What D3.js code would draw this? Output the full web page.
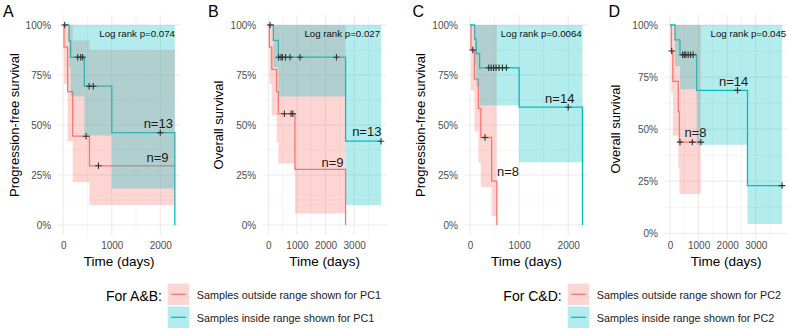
<!DOCTYPE html>
<html>
<head>
<meta charset="utf-8">
<script src="https://cdn.jsdelivr.net/npm/d3@7"></script>
<style>
  body { margin: 0; background: #fff; }
  svg { display: block; font-family: "Liberation Sans", Arial, sans-serif; }
</style>
</head>
<body>
<svg id="chart" width="789" height="329"></svg>
<script>
// Panel A - progression-free survival, PC1 groups
const aOutTime = [0, 15, 90, 195, 540, 2300];
const aOutSurv = [1, 0.889, 0.667, 0.444, 0.296, 0.296];
const aOutLow  = [1, 0.705, 0.42, 0.214, 0.10, 0.10];
const aOutUp   = [1, 1, 1, 0.923, 0.875, 0.875];
const aOutCens = [470, 725];
const aInTime = [0, 118, 152, 435, 1000, 2300];
const aInSurv = [1, 0.92, 0.839, 0.694, 0.462, 0];
const aInLow  = [1, 0.79, 0.643, 0.448, 0.183, 0.183];
const aInUp   = [1, 1, 1, 1, 1, 1];
const aInCens = [30, 298, 360, 400, 532, 620, 2000];

// Panel B - overall survival, PC1 groups
const bOutTime = [0, 35, 120, 290, 350, 930, 2700];
const bOutSurv = [1, 0.889, 0.778, 0.667, 0.556, 0.278, 0];
const bOutLow  = [1, 0.706, 0.548, 0.415, 0.307, 0.058, 0.058];
const bOutUp   = [1, 1, 1, 1, 1, 1, 1];
const bOutCens = [560, 795, 855];
const bInTime = [0, 175, 350, 2700, 3940];
const bInSurv = [1, 0.923, 0.839, 0.419, 0.419];
const bInLow  = [1, 0.79, 0.643, 0.10, 0.10];
const bInUp   = [1, 1, 1, 1, 1];
const bInCens = [60, 360, 444, 490, 600, 760, 1108, 2380, 3940];

// Panel C - progression-free survival, PC2 groups
const cOutTime = [0, 20, 90, 170, 220, 440, 545];
const cOutSurv = [1, 0.875, 0.729, 0.583, 0.4375, 0.219, 0];
const cOutLow  = [1, 0.673, 0.468, 0.313, 0.189, 0.045, 0.045];
const cOutUp   = [1, 1, 1, 1, 1, 1, 1];
const cOutCens = [55, 305];
const cInTime = [0, 92, 125, 195, 1000, 2290];
const cInSurv = [1, 0.929, 0.857, 0.786, 0.589, 0];
const cInLow  = [1, 0.803, 0.692, 0.598, 0.314, 0.314];
const cInUp   = [1, 1, 1, 1, 1, 1];
const cInCens = [380, 430, 480, 530, 590, 660, 740, 2000];

// Panel D - overall survival, PC2 groups
const dOutTime = [0, 45, 100, 290, 330, 1080];
const dOutSurv = [1, 0.875, 0.729, 0.583, 0.4375, 0.4375];
const dOutLow  = [1, 0.673, 0.468, 0.313, 0.189, 0.189];
const dOutUp   = [1, 1, 1, 1, 1, 1];
const dOutCens = [60, 350, 780, 1080];
const dInTime = [0, 175, 350, 930, 2710, 3920];
const dInSurv = [1, 0.929, 0.857, 0.686, 0.229, 0.229];
const dInLow  = [1, 0.803, 0.692, 0.425, 0.045, 0.045];
const dInUp   = [1, 1, 1, 1, 1, 1];
const dInCens = [440, 500, 555, 635, 720, 810, 2360, 3920];

// labels
const yTicks = [0, 0.25, 0.5, 0.75, 1];
const yMinor = [0.125, 0.375, 0.625, 0.875];
const xTicksShort = [0, 1000, 2000];
const xTicksLong = [0, 1000, 2000, 3000];
const pvals = ["Log rank p=0.074", "Log rank p=0.027", "Log rank p=0.0064", "Log rank p=0.045"];
const nOut = [9, 9, 8, 8];
const nIn = [13, 13, 14, 14];
const legendAB = ["Samples outside range shown for PC1", "Samples inside range shown for PC1"];
const legendCD = ["Samples outside range shown for PC2", "Samples inside range shown for PC2"];
const groupColors = ["#F8766D", "#00BFC4"];

function grp(time, surv, low, up, cens) {
    return { time, surv, low, up, cens };
}

var panels = [
    { letter: "A", ytitle: "Progression-free survival", xmax: 2300, xTicks: xTicksShort,
      groups: [grp(aOutTime, aOutSurv, aOutLow, aOutUp, aOutCens), grp(aInTime, aInSurv, aInLow, aInUp, aInCens)],
      left: 57.7, right: 180.4, y0: 225, y100: 25, gridTop: 15, gridBottom: 235,
      letterX: 3, titleX: 14, pAt: [2303, 0.955], nOutAt: [1942, 0.34], nInAt: [1959, 0.51] },
    { letter: "B", ytitle: "Overall survival", xmax: 3940, xTicks: xTicksLong,
      groups: [grp(bOutTime, bOutSurv, bOutLow, bOutUp, bOutCens), grp(bInTime, bInSurv, bInLow, bInUp, bInCens)],
      left: 262.7, right: 386.7, y0: 225, y100: 25, gridTop: 15, gridBottom: 235,
      letterX: 208, titleX: 218.5, pAt: [3906, 0.955], nOutAt: [2245, 0.315], nInAt: [3441, 0.47] },
    { letter: "C", ytitle: "Progression-free survival", xmax: 2300, xTicks: xTicksShort,
      groups: [grp(cOutTime, cOutSurv, cOutLow, cOutUp, cOutCens), grp(cInTime, cInSurv, cInLow, cInUp, cInCens)],
      left: 464.4, right: 588.6, y0: 225, y100: 25, gridTop: 15, gridBottom: 235,
      letterX: 412.5, titleX: 420, pAt: [2275, 0.958], nOutAt: [774, 0.27], nInAt: [1827, 0.635] },
    { letter: "D", ytitle: "Overall survival", xmax: 3920, xTicks: xTicksLong,
      groups: [grp(dOutTime, dOutSurv, dOutLow, dOutUp, dOutCens), grp(dInTime, dInSurv, dInLow, dInUp, dInCens)],
      left: 664.4, right: 787.7, y0: 233.3, y100: 25, gridTop: 14.6, gridBottom: 239,
      letterX: 608.5, titleX: 615.5, pAt: [4066, 0.957], nOutAt: [889, 0.484], nInAt: [2223, 0.731] }
];

var svg = d3.select("#chart");

panels.forEach(function(p, pi) {
    var x = d3.scaleLinear().domain([-0.05 * p.xmax, 1.05 * p.xmax]).range([p.left, p.right]);
    var y = d3.scaleLinear().domain([0, 1]).range([p.y0, p.y100]);
    var g = svg.append("g");

    // grid - minor then major
    var minorX = d3.range(500, 1.05 * p.xmax, 1000);
    var grid = g.append("g");
    grid.selectAll(".mx").data(minorX).join("line").attr("class", "mx")
        .attr("x1", d => x(d)).attr("x2", d => x(d))
        .attr("y1", p.gridTop).attr("y2", p.gridBottom);
    grid.selectAll(".my").data(yMinor).join("line").attr("class", "my")
        .attr("x1", p.left).attr("x2", p.right)
        .attr("y1", d => y(d)).attr("y2", d => y(d));
    grid.selectAll(".mx, .my").attr("stroke", "#F1F1F1").attr("stroke-width", 0.7);
    grid.selectAll(".Mx").data(p.xTicks).join("line").attr("class", "Mx")
        .attr("x1", d => x(d)).attr("x2", d => x(d))
        .attr("y1", p.gridTop).attr("y2", p.gridBottom);
    grid.selectAll(".My").data(yTicks).join("line").attr("class", "My")
        .attr("x1", p.left).attr("x2", p.right)
        .attr("y1", d => y(d)).attr("y2", d => y(d));
    grid.selectAll(".Mx, .My").attr("stroke", "#E9E9E9").attr("stroke-width", 1);

    // axes
    var yAxis = g.append("g")
        .attr("transform", `translate(${p.left},0)`)
        .call(d3.axisLeft(y).tickValues(yTicks).tickFormat(d3.format(".0%")).tickSize(0).tickPadding(6.5));
    var xAxis = g.append("g")
        .attr("transform", "translate(0,238.5)")
        .call(d3.axisBottom(x).tickValues(p.xTicks).tickFormat(d3.format("d")).tickSize(0).tickPadding(3));
    [yAxis, xAxis].forEach(function(a) {
        a.select(".domain").remove();
        a.selectAll("text").attr("fill", "#4D4D4D").attr("font-size", "10px")
            .attr("font-family", "Liberation Sans, Arial, sans-serif");
    });

    // survival curves
    var rows = p.groups.map(gr => gr.time.map((t, i) => ({ t: t, s: gr.surv[i], lo: gr.low[i], up: gr.up[i] })));
    var line = d3.line().curve(d3.curveStepAfter).x(d => x(d.t)).y(d => y(d.s));
    var area = d3.area().curve(d3.curveStepAfter).x(d => x(d.t)).y0(d => y(d.lo)).y1(d => y(d.up));

    g.selectAll(".curve").data(rows).join("path").attr("class", "curve")
        .attr("d", line)
        .attr("fill", "none")
        .attr("stroke", (d, i) => groupColors[i])
        .attr("stroke-width", 1.3);

    g.selectAll(".band").data(rows).join("path").attr("class", "band")
        .attr("d", area)
        .attr("fill", (d, i) => groupColors[i])
        .attr("fill-opacity", 0.3);

    // censor marks
    p.groups.forEach(function(gr) {
        var pts = gr.cens.map(function(c) {
            var k = d3.bisectRight(gr.time, c) - 1;
            return { t: c, s: gr.surv[k] };
        });
        g.append("g").selectAll("path").data(pts).join("path")
            .attr("transform", d => `translate(${x(d.t)},${y(d.s)})`)
            .attr("d", "M-3.2,0H3.2M0,-3.2V3.2")
            .attr("stroke", "#333")
            .attr("stroke-width", 1.1);
    });

    // annotations
    g.append("text")
        .attr("x", x(p.pAt[0])).attr("y", y(p.pAt[1]))
        .attr("dy", "0.35em")
        .attr("text-anchor", "end")
        .attr("font-size", "9.7px")
        .attr("fill", "#111")
        .text(pvals[pi]);
    g.append("text")
        .attr("x", x(p.nInAt[0])).attr("y", y(p.nInAt[1]))
        .attr("dy", "0.35em").attr("text-anchor", "middle")
        .attr("font-size", "13px").attr("fill", "#1a1a1a")
        .text("n=" + nIn[pi]);
    g.append("text")
        .attr("x", x(p.nOutAt[0])).attr("y", y(p.nOutAt[1]))
        .attr("dy", "0.35em").attr("text-anchor", "middle")
        .attr("font-size", "13px").attr("fill", "#1a1a1a")
        .text("n=" + nOut[pi]);

    // titles
    g.append("text")
        .attr("transform", `translate(${p.titleX},${(p.y0 + p.y100) / 2}) rotate(-90)`)
        .attr("dy", "0.35em").attr("text-anchor", "middle")
        .attr("font-size", "13px").attr("fill", "#000")
        .text(p.ytitle);
    g.append("text")
        .attr("x", x(p.xmax / 2)).attr("y", 266)
        .attr("text-anchor", "middle")
        .attr("font-size", "13.5px").attr("fill", "#000")
        .text("Time (days)");
    g.append("text")
        .attr("x", p.letterX).attr("y", 17.3)
        .attr("font-size", "16px").attr("fill", "#000")
        .text(p.letter);
});

// legends
var legends = [
    { title: "For A&B:", labels: legendAB, endX: 162, keyX: 167.7 },
    { title: "For C&D:", labels: legendCD, endX: 561.7, keyX: 567.7 }
];
legends.forEach(function(L) {
    var lg = svg.append("g");
    lg.append("text")
        .attr("x", L.endX).attr("y", 296).attr("dy", "0.35em")
        .attr("text-anchor", "end")
        .attr("font-size", "14px").attr("fill", "#000")
        .text(L.title);
    var items = lg.selectAll("g.item").data(L.labels).join("g").attr("class", "item")
        .attr("transform", (d, i) => `translate(${L.keyX},${283.5 + i * 23})`);
    items.append("rect")
        .attr("width", 21.6).attr("height", 21.5)
        .attr("fill", (d, i) => groupColors[i]).attr("fill-opacity", 0.3);
    items.append("line")
        .attr("x1", 3.5).attr("x2", 18.1).attr("y1", 10.8).attr("y2", 10.8)
        .attr("stroke", (d, i) => groupColors[i]).attr("stroke-width", 1.3);
    items.append("text")
        .attr("x", 29).attr("y", 11.5).attr("dy", "0.35em")
        .attr("font-size", "10.8px").attr("fill", "#1a1a1a")
        .text(d => d);
});
</script>
</body>
</html>
